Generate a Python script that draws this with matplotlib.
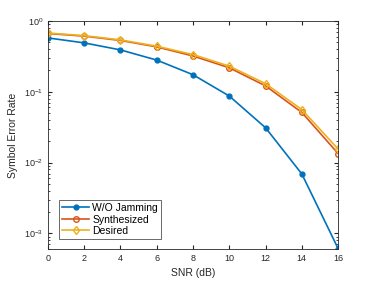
import matplotlib
matplotlib.use("Agg")
import matplotlib.pyplot as plt

snr = [0, 2, 4, 6, 8, 10, 12, 14, 16]
wo_jamming = [0.576, 0.49, 0.39, 0.28, 0.174, 0.087, 0.031, 0.0069, 0.00061]
synthesized = [0.665, 0.61, 0.53, 0.43, 0.32, 0.218, 0.121, 0.051, 0.0134]
desired = [0.675, 0.62, 0.54, 0.44, 0.335, 0.23, 0.13, 0.056, 0.0155]

plt.rcParams['font.family'] = ['Liberation Sans', 'DejaVu Sans']
fig = plt.figure(figsize=(3.74, 2.83), dpi=100)
ax = fig.add_axes([0.128, 0.12, 0.776, 0.806])

ax.plot(snr, wo_jamming, '-o', color='#0072BD', lw=1.2, ms=3.5, mfc='#0072BD', label='W/O Jamming')
ax.plot(snr, synthesized, '-o', color='#D95319', lw=1.2, ms=4, mfc='none', mew=1.0, label='Synthesized')
ax.plot(snr, desired, '-d', color='#EDB120', lw=1.2, ms=4.5, mfc='none', mew=1.0, label='Desired')

ax.set_yscale('log')
ax.set_xlim(0, 16)
ax.set_ylim(6e-4, 1)
ax.set_xticks(snr)
ax.set_xlabel('SNR (dB)', fontsize=7.5, color='#262626')
ax.set_ylabel('Symbol Error Rate', fontsize=7.5, color='#262626')
ax.tick_params(which='both', direction='in', top=True, right=True, labelsize=6.5, colors='#262626')
ax.tick_params(which='major', length=3)
ax.tick_params(which='minor', length=1.5)
for s in ax.spines.values():
    s.set_color('#262626')
    s.set_linewidth(0.6)

leg = ax.legend(loc='lower left', fontsize=7.5, fancybox=False, edgecolor='#262626',
                borderpad=0.3, labelspacing=0.15, handlelength=2.6, handletextpad=0.3,
                bbox_to_anchor=(0.02, 0.02))
leg.get_frame().set_linewidth(0.6)

fig.savefig('out.png', dpi=100)
